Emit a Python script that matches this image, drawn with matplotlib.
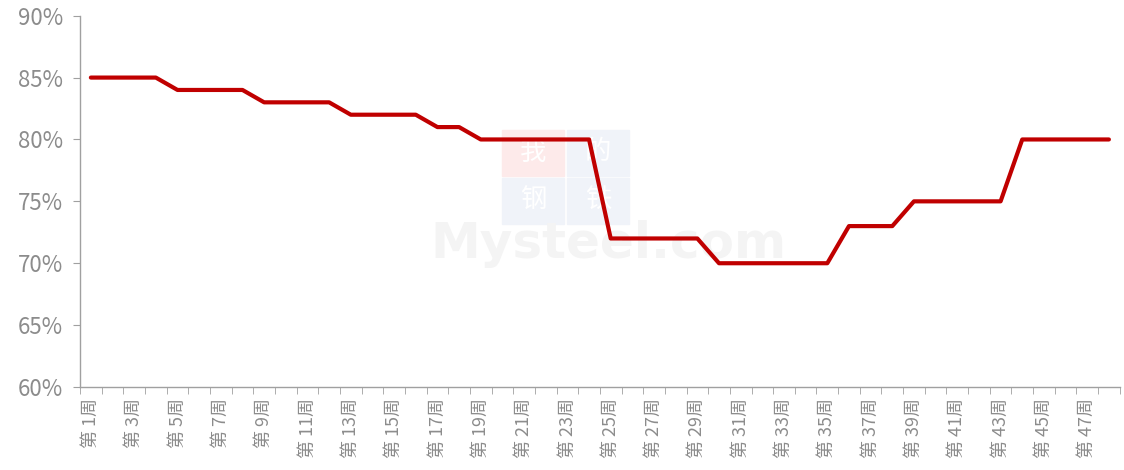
import numpy as np
import matplotlib.pyplot as plt
from matplotlib.patches import Rectangle

plt.rcParams['font.family'] = ['Noto Sans CJK SC', 'DejaVu Sans']

weeks = np.arange(1, 49)
rate = [85, 85, 85, 85, 84, 84, 84, 84, 83, 83, 83, 83,
        82, 82, 82, 82, 81, 81, 80, 80, 80, 80, 80, 80,
        72, 72, 72, 72, 72, 70, 70, 70, 70, 70, 70, 73,
        73, 73, 75, 75, 75, 75, 75, 80, 80, 80, 80, 80]
labels = ['第 ' + str(w) + '周' for w in weeks[::2]]

fig = plt.figure(figsize=(11.24, 4.70), dpi=100)
ax = fig.add_axes([0.0712, 0.1766, 0.925, 0.79])
ax.patch.set_alpha(0)

# faint watermark behind the axes (figure pixel coords -> fractions)
W, H = 1124, 470
tiles = [(502, 130, '我', '#fdeaea'), (567, 130, '的', '#f0f3f9'),
         (502, 178, '钢', '#f0f3f9'), (567, 178, '铁', '#f0f3f9')]
for x0, y0, ch, c in tiles:
    fig.patches.append(Rectangle((x0 / W, 1 - (y0 + 46) / H), 62 / W, 46 / H,
                                 transform=fig.transFigure, color=c, zorder=-3))
    fig.text((x0 + 31) / W, 1 - (y0 + 22) / H, ch, ha='center', va='center',
             fontsize=19, color='white', zorder=-2)
fig.text(608 / W, 1 - 244 / H, 'Mysteel.com', ha='center', va='center',
         fontsize=36, fontweight='bold', color='#f4f4f4', zorder=-2,
         family='DejaVu Sans')

ax.plot(weeks, rate, color='#C00000', lw=3.0, solid_capstyle='round', solid_joinstyle='round', zorder=3)

ax.set_xlim(0.5, 48.5)
ax.set_ylim(60, 90)
ax.set_yticks(np.arange(60, 91, 5))
ax.set_yticklabels([f'{v}%' for v in range(60, 91, 5)])
ax.set_xticks(weeks[::2])
ax.set_xticklabels(labels, rotation=90)
ax.set_xticks(np.arange(0.5, 49, 1), minor=True)

ax.tick_params(axis='x', which='major', length=0, pad=8, labelsize=13, labelcolor='#8c8c8c')
ax.tick_params(axis='x', which='minor', length=5, color='#a0a0a0', direction='out')
ax.tick_params(axis='y', length=5, color='#a0a0a0', labelsize=16, labelcolor='#8c8c8c', pad=7)
for t in ax.get_yticklabels():
    t.set_fontweight('light')

for s in ['top', 'right']:
    ax.spines[s].set_visible(False)
for s in ['left', 'bottom']:
    ax.spines[s].set_color('#a0a0a0')
    ax.spines[s].set_linewidth(1)

fig.savefig('out.png', dpi=100)
